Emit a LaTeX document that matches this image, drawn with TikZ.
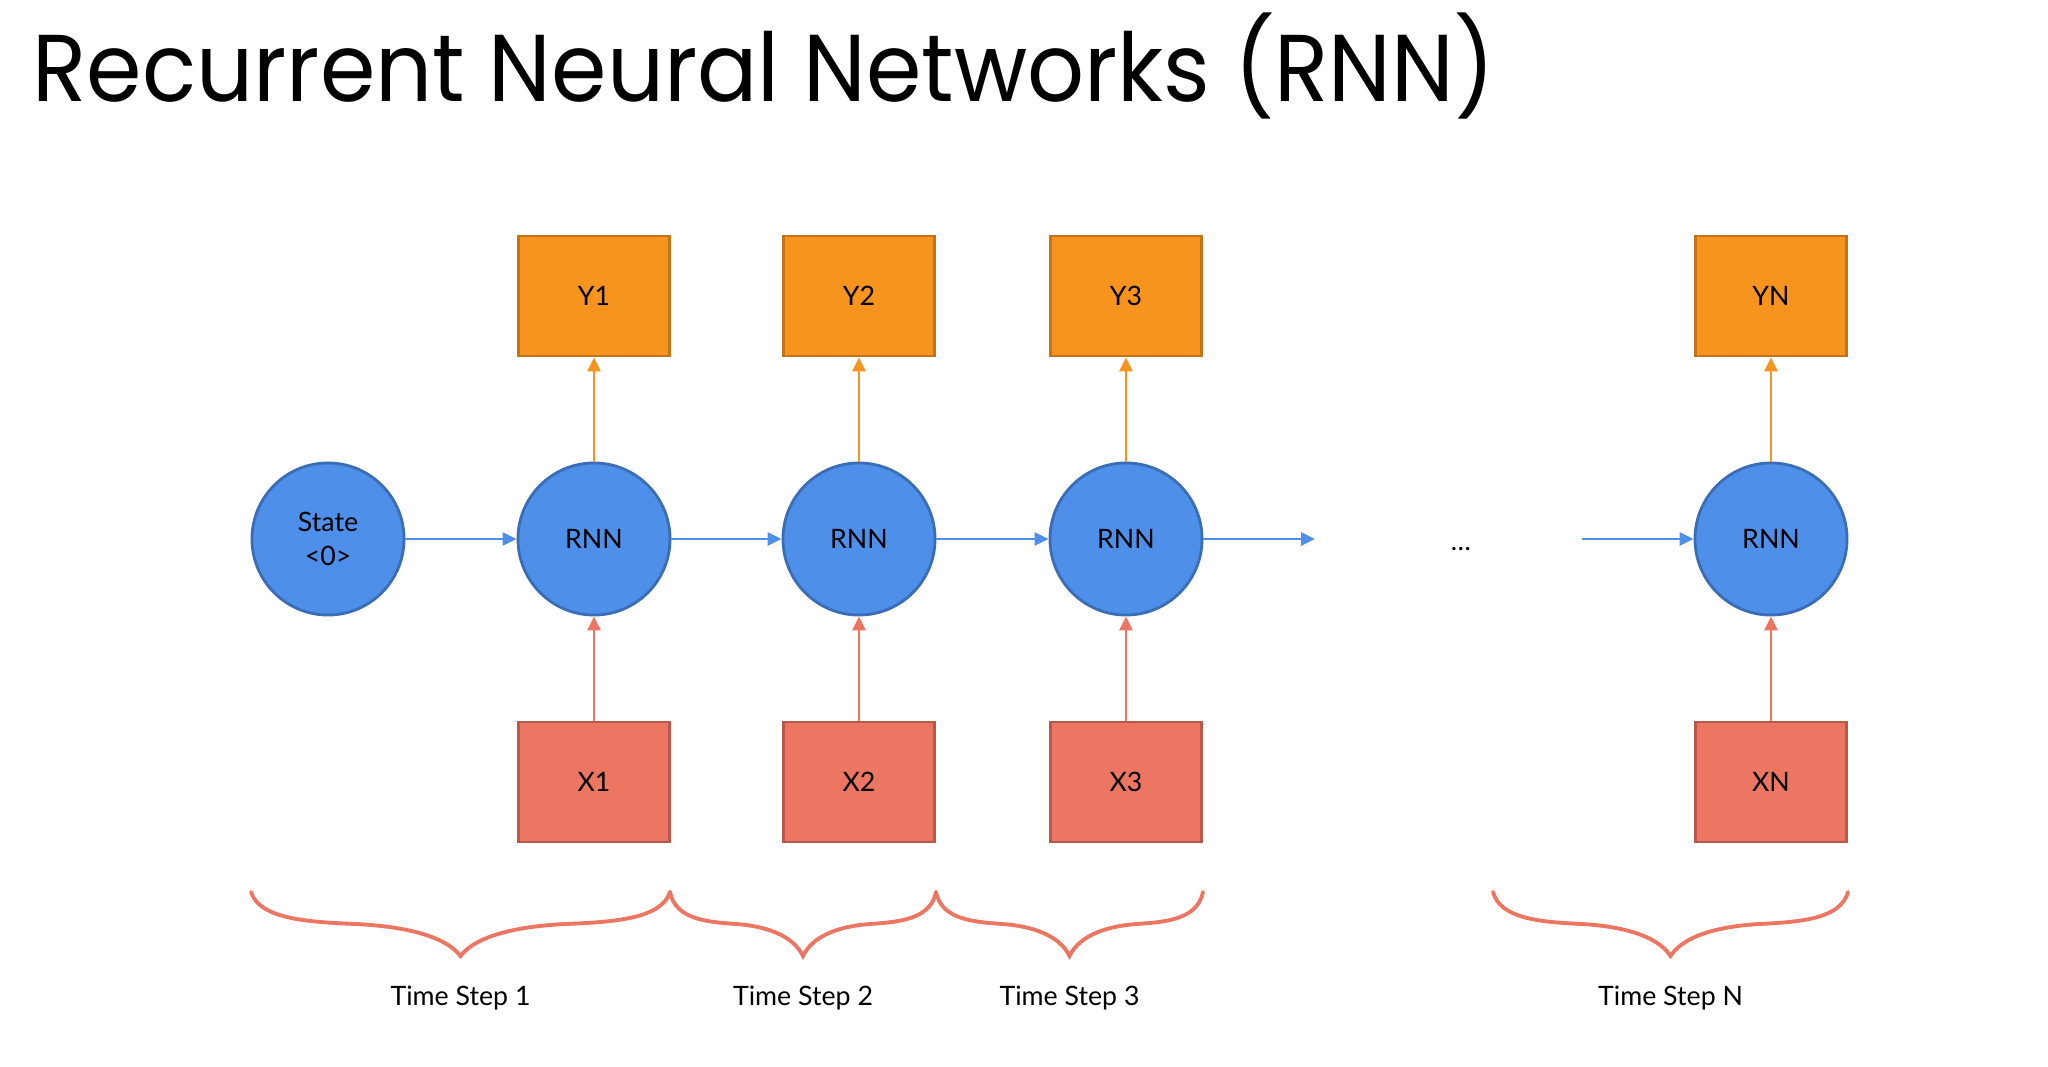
\documentclass[tikz,border=0pt]{standalone}
\usepackage{fontspec}
\setmainfont{Lato}
\newfontfamily\titlefont{Poppins}
\usetikzlibrary{arrows.meta,positioning}
\definecolor{cellblue}{HTML}{4D8FE9}
\definecolor{cellblueline}{HTML}{3A6DB5}
\definecolor{outorange}{HTML}{F7941D}
\definecolor{outorangeline}{HTML}{C2741A}
\definecolor{inred}{HTML}{EC7662}
\definecolor{inredline}{HTML}{B65A4B}

\begin{document}
\begin{tikzpicture}[
x=0.01cm, y=-0.01cm,
font=\fontsize{7.6}{9}\selectfont,
    cell/.style = {circle, draw=cellblueline, fill=cellblue, line width=0.8pt,% recurrent cells
                   minimum size=1.52cm, inner sep=0pt, align=center},
  outbox/.style = {rectangle, draw=outorangeline, fill=outorange, line width=0.8pt,% outputs
                   minimum width=1.51cm, minimum height=1.2cm},
   inbox/.style = {rectangle, draw=inredline, fill=inred, line width=0.8pt,% inputs
                   minimum width=1.51cm, minimum height=1.2cm},
     arr/.style = {line width=0.8pt, -{Triangle[length=1.4mm,width=1.3mm]}},
 tsbrace/.style = {draw=inred, line width=1.1pt, line cap=round},
                        ]
\useasboundingbox (0,0) rectangle (2048,1067);
\node[anchor=base west, inner sep=0pt, font=\titlefont\fontsize{27}{30}\selectfont] (title) at (32,102)
    {\scalebox{0.94}[1]{Recurrent Neural Networks (RNN)}};
% cells
\node[cell] (s0) at (328,539) {State\\[0.5pt]<0>};
\foreach \i/\x in {1/594,2/859,3/1126,N/1771}{
    \node[cell] (r\i) at (\x,539) {RNN};
    \node[outbox, above=1.04cm of r\i] (y\i) {Y\i};
    \node[inbox, below=1.04cm of r\i] (x\i) {X\i};
    \draw[arr, outorange] (r\i) -- (y\i);
    \draw[arr, inred] (x\i) -- (r\i);
}
\coordinate (gapl) at (1315,539);
\coordinate (gapr) at (1582,539);
\node (dots) at (1461,549) {\dots};
\draw[arr, cellblue] (s0) -- (r1);
\draw[arr, cellblue] (r1) -- (r2);
\draw[arr, cellblue] (r2) -- (r3);
\draw[arr, cellblue] (r3) -- (gapl);
\draw[arr, cellblue] (gapr) -- (rN);
% time step braces
\foreach \a/\b/\t in {251/670/1,670/936/2,936/1203/3,1493/1848/N}{
    \pgfmathsetmacro\s{(\b-\a)/2}
    \pgfmathsetmacro\m{(\a+\b)/2}
    \draw[tsbrace] (\a,892)
        .. controls ({\a+0.04*\s},918) and ({\a+0.25*\s},922) .. ({\a+0.5*\s},924)
        .. controls ({\m-0.3*\s},926) and ({\m-0.08*\s},934) .. (\m,956)
        .. controls ({\m+0.08*\s},934) and ({\m+0.3*\s},926) .. ({\b-0.5*\s},924)
        .. controls ({\b-0.25*\s},922) and ({\b-0.04*\s},918) .. (\b,892);
    \node (t\t) at (\m,998) {Time Step \t};
}
\end{tikzpicture}
\end{document}
